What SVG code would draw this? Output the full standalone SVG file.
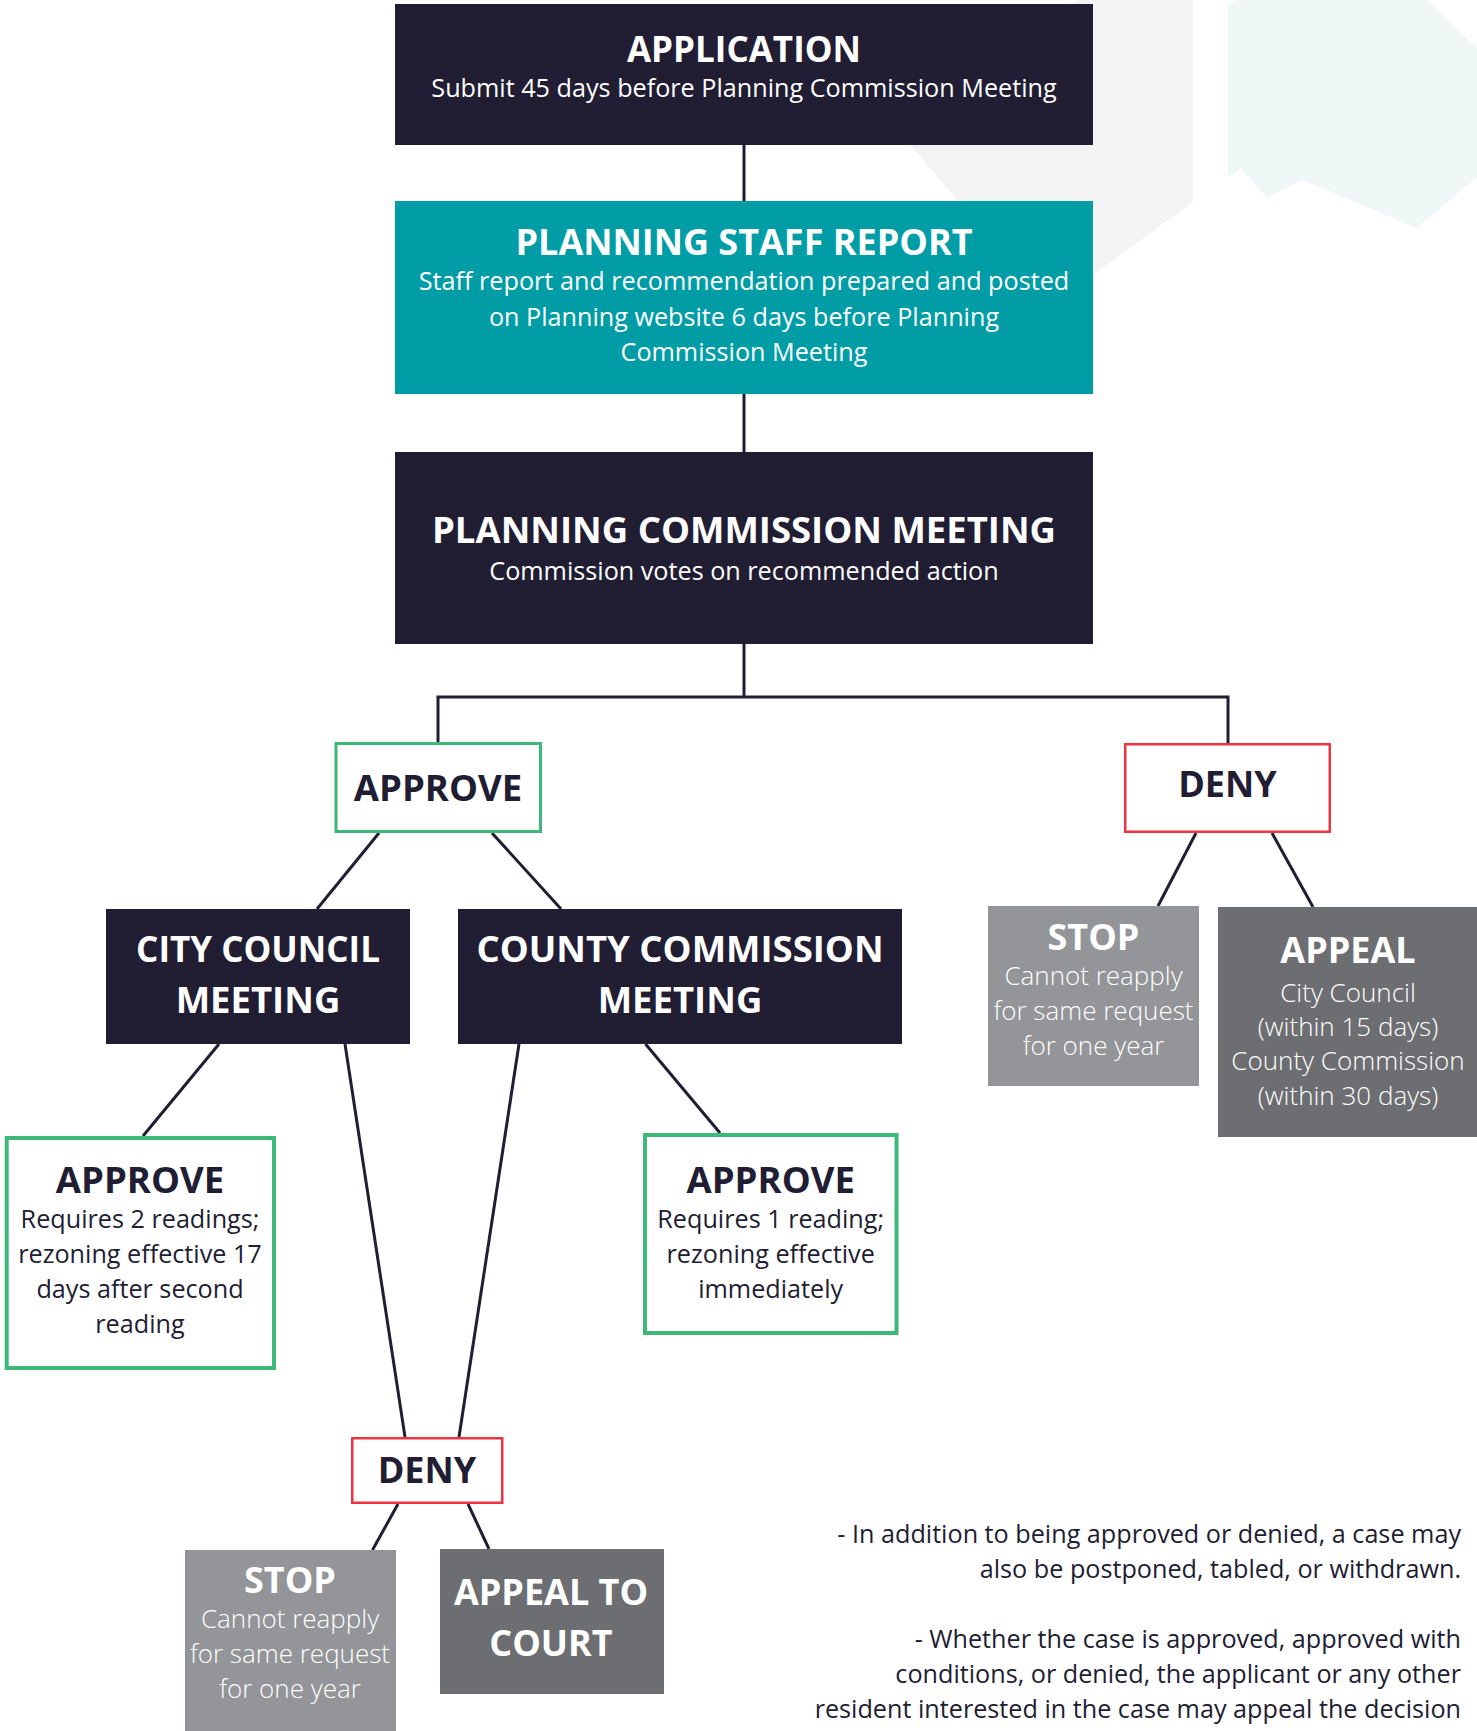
<svg xmlns="http://www.w3.org/2000/svg" width="1477" height="1731" viewBox="0 0 1477 1731">
<style>
.dark{fill:#211d33}
.teal{fill:#009da7}
.stopf{fill:#939598}
.appf{fill:#6d6e71}
.gbox{fill:#ffffff;stroke:#3cb878}
.rbox{fill:#ffffff;stroke:#ee3342;stroke-width:2.5}
text{font-family:"Open Sans","Noto Sans","Liberation Sans",sans-serif;text-anchor:middle}
.t{font-weight:700;font-size:36px}
.t35{font-size:35px}
.t36{font-size:36.5px}
.w{fill:#ffffff}
.k{fill:#211d33}
.d{font-size:25.2px}
.s{font-size:26px;font-weight:300}
.note{font-size:25.2px;fill:#211d33;text-anchor:end}
.conn{stroke:#211d33;stroke-width:3;fill:none}
</style>
<rect width="1477" height="1731" fill="#ffffff"/>
<g id="background">
<polygon points="1077,0 1193,0 1193,202 1049,307 880,110" fill="#f3f3f3"/>
<polygon points="1228,5 1236,0 1427,0 1477,48 1477,177 1417,228 1302,180 1267,198 1241,168 1228,177" fill="#eff8f7"/>
</g>
<g id="connectors" class="conn">
<path d="M744 145 V201"/>
<path d="M744 393 V452"/>
<path d="M744 644 V697"/>
<path d="M438 742 V697 H1228 V743"/>
<path d="M379 833 L317 909"/>
<path d="M492 833 L561 909"/>
<path d="M1196 833 L1158 906"/>
<path d="M1272 833 L1313 907"/>
<path d="M219 1044 L143 1136"/>
<path d="M345 1044 L405 1437"/>
<path d="M519 1044 L459 1437"/>
<path d="M645.5 1044 L720 1133"/>
<path d="M398 1504 L372.5 1550"/>
<path d="M468 1504 L489 1549"/>
</g>
<g id="application">
<rect class="dark" x="395" y="4" width="698" height="141"/>
<text class="t t35 w" x="744" y="62">APPLICATION</text>
<text class="d w" x="744" y="97">Submit 45 days before Planning Commission Meeting</text>
</g>
<g id="staff-report">
<rect class="teal" x="395" y="201" width="698" height="193"/>
<text class="t w" x="744" y="255">PLANNING STAFF REPORT</text>
<text class="d w" x="744" y="290">Staff report and recommendation prepared and posted</text>
<text class="d w" x="744" y="326">on Planning website 6 days before Planning</text>
<text class="d w" x="744" y="361">Commission Meeting</text>
</g>
<g id="commission-meeting">
<rect class="dark" x="395" y="452" width="698" height="192"/>
<text class="t t36 w" x="744" y="543">PLANNING COMMISSION MEETING</text>
<text class="d w" x="744" y="580">Commission votes on recommended action</text>
</g>
<g id="approve">
<rect class="gbox" stroke-width="3" x="336" y="743.5" width="204.5" height="88"/>
<text class="t t36 k" x="438" y="801">APPROVE</text>
</g>
<g id="deny">
<rect class="rbox" x="1125.25" y="744.25" width="204.5" height="87.5"/>
<text class="t k" x="1227.5" y="797">DENY</text>
</g>
<g id="stop-1">
<rect class="stopf" x="988" y="906" width="211" height="180"/>
<text class="t w" x="1093.5" y="950">STOP</text>
<text class="s w" x="1093.5" y="985">Cannot reapply</text>
<text class="s w" x="1093.5" y="1020">for same request</text>
<text class="s w" x="1093.5" y="1055">for one year</text>
</g>
<g id="appeal">
<rect class="appf" x="1218" y="907" width="259" height="230"/>
<text class="t w" x="1348" y="963">APPEAL</text>
<text class="s w" x="1348" y="1002">City Council</text>
<text class="s w" x="1348" y="1036">(within 15 days)</text>
<text class="s w" x="1348" y="1070">County Commission</text>
<text class="s w" x="1348" y="1105">(within 30 days)</text>
</g>
<g id="city-council">
<rect class="dark" x="106" y="909" width="304" height="135"/>
<text class="t t35 w" x="258" y="962">CITY COUNCIL</text>
<text class="t t36 w" x="258" y="1013">MEETING</text>
</g>
<g id="county-commission">
<rect class="dark" x="458" y="909" width="444" height="135"/>
<text class="t t36 w" x="680" y="962">COUNTY COMMISSION</text>
<text class="t t36 w" x="680" y="1013">MEETING</text>
</g>
<g id="approve-city">
<rect class="gbox" stroke-width="4" x="6.7" y="1138" width="267.3" height="230"/>
<text class="t t36 k" x="140" y="1193">APPROVE</text>
<text class="d k" x="140" y="1228">Requires 2 readings;</text>
<text class="d k" x="140" y="1263">rezoning effective 17</text>
<text class="d k" x="140" y="1298">days after second</text>
<text class="d k" x="140" y="1333">reading</text>
</g>
<g id="approve-county">
<rect class="gbox" stroke-width="4" x="645" y="1135" width="251.5" height="198"/>
<text class="t t36 k" x="770.7" y="1193">APPROVE</text>
<text class="d k" x="770.7" y="1228">Requires 1 reading;</text>
<text class="d k" x="770.7" y="1263">rezoning effective</text>
<text class="d k" x="770.7" y="1298">immediately</text>
</g>
<g id="deny-2">
<rect class="rbox" x="352.25" y="1438.25" width="150" height="64.5"/>
<text class="t k" x="427" y="1483">DENY</text>
</g>
<g id="stop-2">
<rect class="stopf" x="185" y="1550" width="211" height="181"/>
<text class="t w" x="290" y="1593">STOP</text>
<text class="s w" x="290" y="1628">Cannot reapply</text>
<text class="s w" x="290" y="1663">for same request</text>
<text class="s w" x="290" y="1698">for one year</text>
</g>
<g id="appeal-court">
<rect class="appf" x="440" y="1549" width="224" height="145"/>
<text class="t w" x="551" y="1605">APPEAL TO</text>
<text class="t w" x="551" y="1656">COURT</text>
</g>
<g id="notes">
<text class="note" x="1461" y="1543">- In addition to being approved or denied, a case may</text>
<text class="note" x="1461" y="1578">also be postponed, tabled, or withdrawn.</text>
<text class="note" x="1461" y="1648">- Whether the case is approved, approved with</text>
<text class="note" x="1461" y="1683">conditions, or denied, the applicant or any other</text>
<text class="note" x="1461" y="1718">resident interested in the case may appeal the decision</text>
</g>
</svg>
